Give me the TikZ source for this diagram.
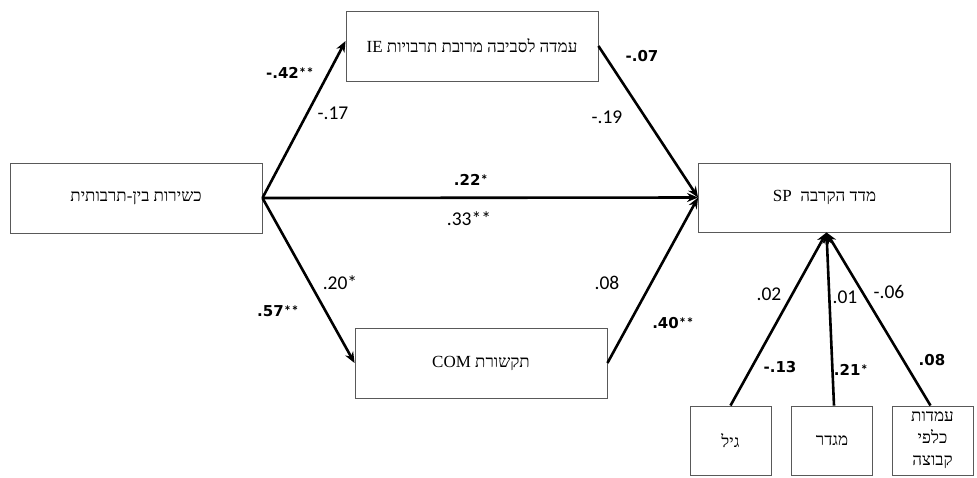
\documentclass[tikz,border=0pt]{standalone}
\usepackage{fontspec}
\setmainfont{Liberation Serif}
\newfontfamily\heb[Script=Hebrew]{Liberation Serif}
\newfontfamily\regf{Carlito}
\newfontfamily\bldf{DejaVu Sans}
\TeXXeTstate=1
\usetikzlibrary{arrows.meta}
\newcommand{\mystars}[1]{{\regf\fontsize{15}{15}\selectfont #1}}
\begin{document}
\begin{tikzpicture}[x=1pt,y=-1pt,
  box/.style={draw=black!65, line width=0.9pt, minimum width=252pt, minimum height=70pt, inner sep=0pt, font=\heb\fontsize{17}{20}\selectfont},
  smallbox/.style={draw=black!65, line width=0.9pt, minimum width=81pt, minimum height=69pt, inner sep=0pt, font=\heb\fontsize{17}{22}\selectfont, align=center},
  link/.style={line width=2.6pt, -{Stealth[length=11pt,width=9pt]}},
  coef/.style={font=\regf\fontsize{19.5}{20}\selectfont, inner sep=0pt},
  bcoef/.style={font=\bldf\bfseries\fontsize{15}{15}\selectfont, inner sep=0pt}]
\useasboundingbox (0,0) rectangle (977,477);
\node[box] (src) at (136,198) {\beginR כשירות בין-תרבותית\endR};
\node[box] (ie) at (472,46) {\beginR עמדה לסביבה מרובת תרבויות \beginL IE\endL\endR};
\node[box, minimum height=69pt] (sp) at (824.5,197.5) {\beginR מדד הקרבה \ \beginL SP\endL\endR};
\node[box] (com) at (481,363) {\beginR תקשורת \beginL COM\endL\endR};
\node[smallbox] (gil) at (730.5,440.5) {\beginR גיל\endR};
\node[smallbox] (migdar) at (832,440.5) {\beginR מגדר\endR};
\node[smallbox] (group) at (932.5,440.5) {\beginR עמדות\endR\\\beginR כלפי\endR\\\beginR קבוצה\endR};
\coordinate (tip) at ([xshift=2pt]sp.south);
\draw[link] (src.east) -- ([yshift=5pt]ie.west);
\draw[link] (ie.east) -- (sp.west);
\draw[link] (src.east) -- (sp.west);
\draw[link] (src.east) -- (com.west);
\draw[link] (com.east) -- (sp.west);
\draw[link] (gil.north) -- (tip);
\draw[link] ([xshift=2pt]migdar.north) -- (tip);
\draw[link] ([xshift=-2pt]group.north) -- (tip);
\node[bcoef] (l1) at (290,73) {-.42\mystars{**}};
\node[coef] (l2) at (333,113) {-.17};
\node[bcoef] (l3) at (642,56) {-.07};
\node[coef] (l4) at (607,117) {-.19};
\node[bcoef] (l5) at (471,180) {.22\mystars{*}};
\node[coef] (l6) at (469,219) {.33**};
\node[coef] (l7) at (340,283) {.20*};
\node[bcoef] (l8) at (278,311) {.57\mystars{**}};
\node[coef] (l9) at (607,283) {.08};
\node[bcoef] (l10) at (673,323) {.40\mystars{**}};
\node[coef] (l11) at (769,294) {.02};
\node[coef] (l12) at (845,297) {.01};
\node[coef] (l13) at (889,292) {-.06};
\node[bcoef] (l14) at (780,367) {-.13};
\node[bcoef] (l15) at (851,370) {.21\mystars{*}};
\node[bcoef] (l16) at (932,360) {.08};
\end{tikzpicture}
\end{document}
